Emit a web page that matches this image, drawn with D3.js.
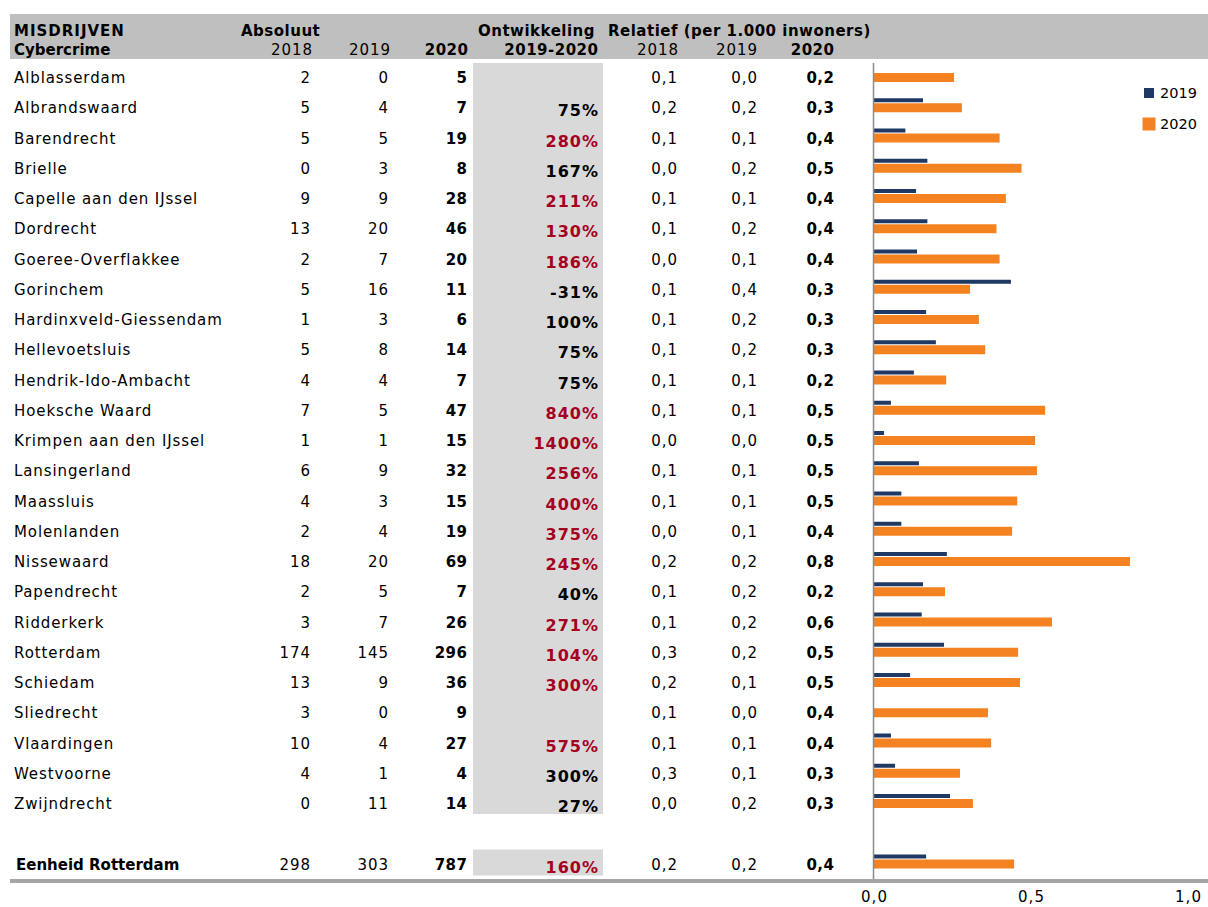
<!DOCTYPE html>
<html>
<head>
<meta charset="utf-8">
<script src="https://cdn.jsdelivr.net/npm/d3@7"></script>
<style>
  body { margin: 0; background: #fff; }
  svg text { font-family: "DejaVu Sans", Verdana, sans-serif; font-variant-ligatures: none; }
</style>
</head>
<body>
<script>
// gemeenten en waarden
const gemeenten = ["Alblasserdam", "Albrandswaard", "Barendrecht", "Brielle", "Capelle aan den IJssel",
  "Dordrecht", "Goeree-Overflakkee", "Gorinchem", "Hardinxveld-Giessendam", "Hellevoetsluis",
  "Hendrik-Ido-Ambacht", "Hoeksche Waard", "Krimpen aan den IJssel", "Lansingerland", "Maassluis",
  "Molenlanden", "Nissewaard", "Papendrecht", "Ridderkerk", "Rotterdam", "Schiedam", "Sliedrecht",
  "Vlaardingen", "Westvoorne", "Zwijndrecht"];
const abs2018 = [2, 5, 5, 0, 9, 13, 2, 5, 1, 5, 4, 7, 1, 6, 4, 2, 18, 2, 3, 174, 13, 3, 10, 4, 0];
const abs2019 = [0, 4, 5, 3, 9, 20, 7, 16, 3, 8, 4, 5, 1, 9, 3, 4, 20, 5, 7, 145, 9, 0, 4, 1, 11];
const abs2020 = [5, 7, 19, 8, 28, 46, 20, 11, 6, 14, 7, 47, 15, 32, 15, 19, 69, 7, 26, 296, 36, 9, 27, 4, 14];
const ontwikkeling = [null, 75, 280, 167, 211, 130, 186, -31, 100, 75, 75, 840, 1400, 256, 400, 375, 245, 40, 271, 104, 300, null, 575, 300, 27];
const significant = [0, 0, 1, 0, 1, 1, 1, 0, 0, 0, 0, 1, 1, 1, 1, 1, 1, 0, 1, 1, 1, 0, 1, 0, 0];
const rel2018 = [0.1, 0.2, 0.1, 0.0, 0.1, 0.1, 0.0, 0.1, 0.1, 0.1, 0.1, 0.1, 0.0, 0.1, 0.1, 0.0, 0.2, 0.1, 0.1, 0.3, 0.2, 0.1, 0.1, 0.3, 0.0];
const rel2019 = [0.0, 0.2, 0.1, 0.2, 0.1, 0.2, 0.1, 0.4, 0.2, 0.2, 0.1, 0.1, 0.0, 0.1, 0.1, 0.1, 0.2, 0.2, 0.2, 0.2, 0.1, 0.0, 0.1, 0.1, 0.2];
const rel2020 = [0.2, 0.3, 0.4, 0.5, 0.4, 0.4, 0.4, 0.3, 0.3, 0.3, 0.2, 0.5, 0.5, 0.5, 0.5, 0.4, 0.8, 0.2, 0.6, 0.5, 0.5, 0.4, 0.4, 0.3, 0.3];
// bar lengths (unrounded relative values)
const bar2019 = [0, 0.156, 0.10, 0.17, 0.134, 0.17, 0.137, 0.436, 0.166, 0.197, 0.127, 0.054, 0.032, 0.143, 0.087, 0.087, 0.232, 0.156, 0.152, 0.223, 0.115, 0, 0.054, 0.067, 0.242];
const bar2020 = [0.255, 0.28, 0.40, 0.47, 0.42, 0.39, 0.40, 0.306, 0.334, 0.354, 0.23, 0.545, 0.513, 0.519, 0.456, 0.44, 0.815, 0.226, 0.567, 0.459, 0.465, 0.363, 0.373, 0.274, 0.315];

// totaal regio
const totaalNaam = "Eenheid Rotterdam";
const totaalAbs = [298, 303, 787];
const totaalOntw = 160;
const totaalRel = [0.2, 0.2, 0.4];
const totaalBar = [0.166, 0.446];

const axisTicks = [0, 0.5, 1];
const legendJaren = ["2019", "2020"];

const NAVY = "#1f3864", ORANGE = "#f58220", RED = "#a50021", GREY = "#d9d9d9";
const LS = 0.9, LSB = 0.5;

const width = 1208, height = 907;
const svg = d3.select("body").append("svg")
  .attr("width", width)
  .attr("height", height);

// row index -> y center (index 26 = totaal, 25 is empty)
const yScale = d3.scaleLinear().domain([0, 26]).range([77, 863.5]);
const xScale = d3.scaleLinear().domain([0, 1]).range([874, 1188]);
const fmt = d => d3.format(".1f")(d).replace(".", ",");

// header band
svg.append("rect").attr("x", 10).attr("y", 14).attr("width", width - 10).attr("height", 45).attr("fill", "#bfbfbf");

const head = svg.append("g").attr("font-size", 15).attr("fill", "#000");
head.append("text").attr("x", 14).attr("y", 36).attr("font-weight", "bold").attr("letter-spacing", 1).text("MISDRIJVEN");
head.append("text").attr("x", 14).attr("y", 55).attr("font-weight", "bold").attr("letter-spacing", 0).text("Cybercrime");
head.append("text").attr("x", 241).attr("y", 36).attr("font-weight", "bold").attr("letter-spacing", LSB).text("Absoluut");
head.append("text").attr("x", 478).attr("y", 36).attr("font-weight", "bold").attr("letter-spacing", LSB).text("Ontwikkeling");
head.append("text").attr("x", 608).attr("y", 36).attr("font-weight", "bold").attr("letter-spacing", LSB).text("Relatief (per 1.000 inwoners)");
const sub = [["2018", 312, false], ["2019", 390, false], ["2020", 468, true], ["2019-2020", 598, true],
             ["2018", 678, false], ["2019", 757, false], ["2020", 834, true]];
sub.forEach(s => head.append("text").attr("x", s[1] + (s[2] ? LSB : LS)).attr("y", 55).attr("text-anchor", "end")
  .attr("letter-spacing", s[2] ? LSB : LS)
  .attr("font-weight", s[2] ? "bold" : "normal").text(s[0]));

// grey ontwikkeling column
svg.append("rect").attr("x", 473).attr("y", yScale(0) - 14).attr("width", 130)
  .attr("height", yScale(24) - yScale(0) + 25).attr("fill", GREY);
svg.append("rect").attr("x", 473).attr("y", yScale(26) - 14).attr("width", 130)
  .attr("height", 26).attr("fill", GREY);

// rows
const rows = gemeenten.map((g, i) => ({
  naam: g, i: i, a: [abs2018[i], abs2019[i], abs2020[i]], o: ontwikkeling[i], sig: significant[i],
  r: [rel2018[i], rel2019[i], rel2020[i]], b: [bar2019[i], bar2020[i]], bold: false
}));
rows.push({ naam: totaalNaam, i: 26, a: totaalAbs, o: totaalOntw, sig: 1, r: totaalRel, b: totaalBar, bold: true });

const rowG = svg.append("g").attr("font-size", 15)
  .selectAll("g").data(rows).join("g")
  .attr("transform", d => "translate(0," + yScale(d.i) + ")");

rowG.append("text").attr("x", d => d.bold ? 16 : 14).attr("y", 6)
  .attr("letter-spacing", d => d.bold ? 0 : LS)
  .attr("font-weight", d => d.bold ? "bold" : "normal").text(d => d.naam);

const absX = [310, 388, 467];
absX.forEach((x, k) => {
  const ls = k === 2 ? LSB : LS;
  rowG.append("text").attr("x", x + ls).attr("y", 6).attr("text-anchor", "end")
    .attr("letter-spacing", ls)
    .attr("font-weight", k === 2 ? "bold" : "normal").text(d => d.a[k]);
});

rowG.filter(d => d.o !== null).append("text")
  .attr("x", 599).attr("y", 9).attr("text-anchor", "end")
  .attr("font-size", 16).attr("font-weight", "bold").attr("letter-spacing", 1)
  .attr("fill", d => d.sig ? RED : "#000")
  .text(d => d.o + "%");

const relX = [677, 757, 834];
relX.forEach((x, k) => {
  const ls = k === 2 ? LSB : LS;
  rowG.append("text").attr("x", x + ls).attr("y", 6).attr("text-anchor", "end")
    .attr("letter-spacing", ls)
    .attr("font-weight", k === 2 ? "bold" : "normal").text(d => fmt(d.r[k]));
});

// bars
rowG.append("rect").attr("x", xScale(0)).attr("y", -9)
  .attr("width", d => xScale(d.b[0]) - xScale(0)).attr("height", 4).attr("fill", NAVY);
rowG.append("rect").attr("x", xScale(0)).attr("y", -4)
  .attr("width", d => xScale(d.b[1]) - xScale(0)).attr("height", 9).attr("fill", ORANGE);

// vertical axis line
svg.append("line").attr("x1", 873.5).attr("x2", 873.5).attr("y1", 63).attr("y2", 879)
  .attr("stroke", "#8c8c8c").attr("stroke-width", 1.5);

// bottom rule
svg.append("rect").attr("x", 10).attr("y", 879).attr("width", width - 10).attr("height", 4).attr("fill", "#a6a6a6");

// x axis labels
const xAxis = svg.append("g").attr("transform", "translate(0,885)")
  .call(d3.axisBottom(xScale).tickValues(axisTicks).tickSize(0).tickPadding(6).tickFormat(fmt));
xAxis.select(".domain").remove();
xAxis.selectAll("text").attr("font-size", 15).attr("fill", "#000").attr("letter-spacing", 1)
  .attr("font-family", "DejaVu Sans, sans-serif");

// legend
const legend = svg.append("g").attr("font-size", 14.5);
legendJaren.forEach((j, k) => {
  const s = k === 0 ? 10 : 13;
  legend.append("rect").attr("x", 1149 - s / 2).attr("y", 93 + k * 31 - s / 2)
    .attr("width", s).attr("height", s).attr("fill", k === 0 ? NAVY : ORANGE);
  legend.append("text").attr("x", 1160).attr("y", 98 + k * 31)
    .attr("font-family", "Open Sans, sans-serif").text(j);
});
</script>
</body>
</html>
